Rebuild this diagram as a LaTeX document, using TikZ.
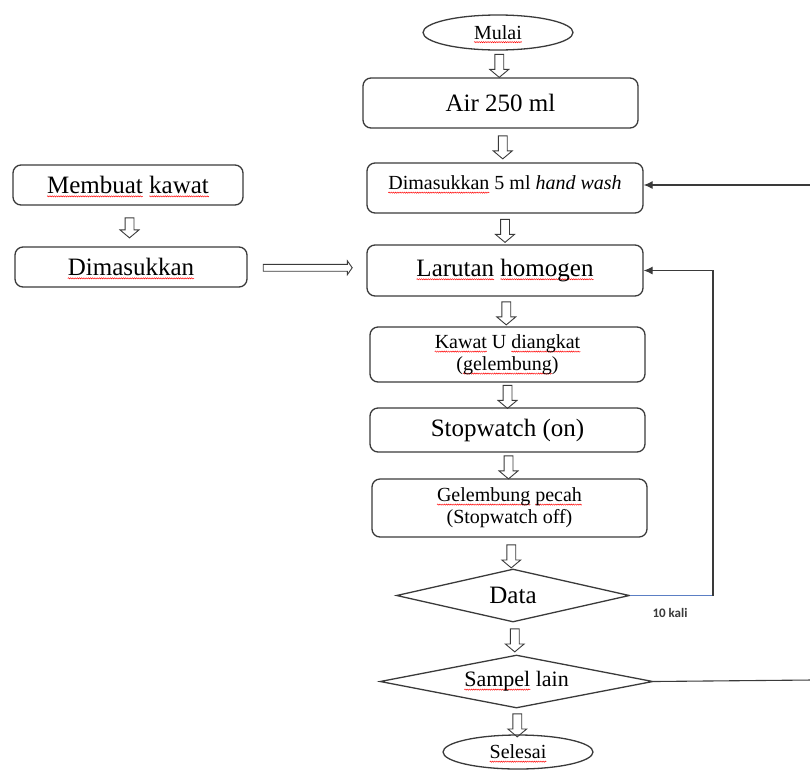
\documentclass[tikz,border=0pt]{standalone}
\usepackage{fontspec}
\setmainfont{Liberation Serif}
\newfontfamily\carl{Carlito}
\usetikzlibrary{shapes.geometric,shapes.arrows,arrows.meta,calc,decorations.pathmorphing}
\newlength\sqw
\newcommand\sq[1]{\settowidth\sqw{#1}\tikz[overlay,baseline=0pt]\draw[sharp corners,red,line width=0.45pt,decorate,decoration={snake,amplitude=0.6pt,segment length=2.2pt}] (0pt,-2.8pt) -- (\sqw,-2.8pt);#1}
\definecolor{edge}{HTML}{3A3A3A}
\definecolor{bluel}{HTML}{5B7FC4}
\newcommand\bigT{\fontsize{25}{29}\selectfont}
\newcommand\midT{\fontsize{20}{23}\selectfont}
\begin{document}
\begin{tikzpicture}[x=1pt,y=-1pt,
  box/.style={draw=edge,line width=1.3pt,rounded corners=8pt,inner sep=0pt},
  oval/.style={draw=edge,line width=1.3pt,ellipse,inner sep=0pt},
  dia/.style={draw=edge,line width=1.3pt,diamond,inner sep=0pt},
  varrow/.style={draw=edge,line width=0.9pt,single arrow,rotate=-90,inner sep=4pt,
    single arrow head extend=5pt,single arrow tip angle=100,minimum height=23pt},
  harrow/.style={draw=edge,line width=0.9pt,single arrow,inner sep=3pt,
    single arrow head extend=3.5pt,single arrow tip angle=110,minimum height=89pt},
  link/.style={draw=edge,line width=1.1pt},
  tip/.style={-{Latex[length=9pt,width=8pt]}}]
\useasboundingbox (0,0) rectangle (810,769);
% main column
\node[oval,minimum width=150pt,minimum height=35pt] (mulai) at (498,32.5) {\midT\sq{Mulai}};
\node[box,minimum width=275pt,minimum height=50pt] (air) at (500.5,103) {\bigT Air 250 ml};
\node[box,minimum width=276pt,minimum height=50pt] (hw) at (505,188) {};
\node (hwt) at (505,183) {\midT\sq{Dimasukkan} 5 ml \textit{hand wash}};
\node[box,minimum width=276pt,minimum height=51pt] (lar) at (505,270.5) {\bigT\sq{Larutan} \sq{homogen}};
\node[box,minimum width=275pt,minimum height=55pt] (kaw) at (507.5,354.5) {};
\node (kaw1) at (507.5,344) {\midT\sq{Kawat} U \sq{diangkat}};
\node (kaw2) at (507.5,366) {\midT(\sq{gelembung})};
\node[box,minimum width=275pt,minimum height=44pt] (stw) at (507.5,430) {\bigT Stopwatch (on)};
\node[box,minimum width=275pt,minimum height=58pt] (gel) at (509.5,508) {};
\node (gel1) at (509.5,497) {\midT\sq{Gelembung} \sq{pecah}};
\node (gel2) at (509.5,519) {\midT(Stopwatch off)};
\node[dia,aspect=4.4,minimum width=233pt,minimum height=53pt] (data) at (513,595.5) {\bigT Data};
\node[dia,aspect=5.15,minimum width=273pt,minimum height=53pt] (samp) at (516.5,681.5) {\fontsize{22}{26}\selectfont\sq{Sampel} lain};
\node[oval,minimum width=150pt,minimum height=34pt] (sel) at (518,752) {\midT\sq{Selesai}};
% left column
\node[box,minimum width=230pt,minimum height=40pt] (kawat) at (128,185) {\bigT\sq{Membuat} \sq{kawat}};
\node[box,minimum width=232pt,minimum height=40pt] (dim) at (131,267) {\bigT\sq{Dimasukkan}};
% hollow arrows
\node[varrow] (a1) at ($(mulai.south)!0.5!(air.north)$) {};
\node[varrow] (a2) at ($(air.south)!0.5!(hw.north)$) {};
\node[varrow] (a3) at ($(hw.south)!0.5!(lar.north)$) {};
\node[varrow] (a4) at ($(lar.south)!0.5!(kaw.north)$) {};
\node[varrow] (a5) at ($(kaw.south)!0.5!(stw.north)$) {};
\node[varrow] (a6) at ($(stw.south)!0.5!(gel.north)$) {};
\node[varrow] (a7) at ($(gel.south)!0.5!(data.north)+(0,1.5)$) {};
\node[varrow] (a8) at ($(data.south)!0.5!(samp.north)$) {};
\node[varrow] (a9) at ($(samp.south)!0.5!(sel.north)+(0,2)$) {};
\node[varrow,minimum height=20pt] (a10) at ($(kawat.south)!0.5!(dim.north)$) {};
\node[harrow] (a11) at ($(dim.east)!0.5!(lar.west)+(-0.5,-1)$) {};
% loops
\coordinate (turn) at (713,595.5);
\draw[bluel,line width=1.1pt] (data.east) -- (turn);
\draw[link,tip] (turn) -- (turn |- lar.east) -- (lar.east);
\node[font=\carl\bfseries\fontsize{13}{15}\selectfont,text=edge] (kali) at (670,613) {10 kali};
\coordinate (outA) at (812,680);
\draw[link] (samp.east) -- (outA);
\coordinate (outB) at (812,185);
\draw[link,tip] (outB) -- (hw.east |- outB);
\end{tikzpicture}
\end{document}
